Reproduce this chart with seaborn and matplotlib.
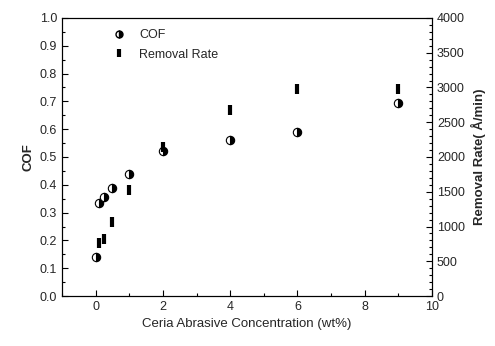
import matplotlib
matplotlib.use("Agg")
import matplotlib.pyplot as plt
import seaborn as sns
import pandas as pd
from matplotlib.ticker import MultipleLocator
from matplotlib.lines import Line2D

sns.set_theme(style="ticks")
plt.rcParams['font.family'] = ['Liberation Sans', 'DejaVu Sans']

cof_x = [0, 0.1, 0.25, 0.5, 1, 2, 4, 6, 9]
cof_y = [0.14, 0.335, 0.356, 0.39, 0.44, 0.52, 0.56, 0.59, 0.695]
rr_x = [0.1, 0.25, 0.5, 1, 2, 4, 6, 9]
rr_y = [760, 820, 1065, 1525, 2140, 2680, 2980, 2980]

df_cof = pd.DataFrame({"x": cof_x, "y": cof_y})
df_rr = pd.DataFrame({"x": rr_x, "y": rr_y})

fig = plt.figure(figsize=(4.95, 3.46), dpi=100)
ax = fig.add_axes([0.125, 0.1445, 0.748, 0.8035])
ax2 = ax.twinx()

sns.lineplot(data=df_cof, x="x", y="y", ax=ax, linestyle="none", marker="o",
             fillstyle="right", markersize=6, color="black", markeredgewidth=0.8,
             markeredgecolor="black", markerfacecolor="black", markerfacecoloralt="white")
sns.lineplot(data=df_rr, x="x", y="y", ax=ax2, linestyle="none", marker="|",
             markersize=7, color="black", markeredgewidth=3, markeredgecolor="black")

ax.set_xlim(-1, 10)
ax.set_ylim(0, 1.0)
ax2.set_ylim(0, 4000)
ax.xaxis.set_major_locator(MultipleLocator(2))
ax.xaxis.set_minor_locator(MultipleLocator(1))
ax.yaxis.set_major_locator(MultipleLocator(0.1))
ax.yaxis.set_minor_locator(MultipleLocator(0.05))
ax2.yaxis.set_major_locator(MultipleLocator(500))
ax2.yaxis.set_minor_locator(MultipleLocator(100))
ax.yaxis.set_major_formatter(matplotlib.ticker.FormatStrFormatter('%.1f'))

for a in (ax, ax2):
    a.tick_params(which="both", direction="in", labelsize=9, color="black", width=0.8)
    a.tick_params(which="major", length=4)
    a.tick_params(which="minor", length=2)
    for s in a.spines.values():
        s.set_visible(True)
        s.set_linewidth(0.8)
        s.set_color("black")

ax.set_xlabel("Ceria Abrasive Concentration (wt%)", fontsize=9.5)
ax.set_ylabel("COF", fontsize=9.5, fontweight="bold")
ax2.set_ylabel("Removal Rate( Å/min)", fontsize=9.5, fontweight="bold")

handles = [Line2D([], [], linestyle="none", marker="o", fillstyle="right", color="black",
                  markersize=5, markerfacecoloralt="white"),
           Line2D([], [], linestyle="none", marker="|", color="black", markersize=6,
                  markeredgewidth=3)]
ax.legend(handles, ["COF", "Removal Rate"], loc="upper left", bbox_to_anchor=(0.09, 1.0),
          frameon=False, fontsize=9, handletextpad=0.6, labelspacing=0.6)

fig.savefig("out.png", dpi=100)
